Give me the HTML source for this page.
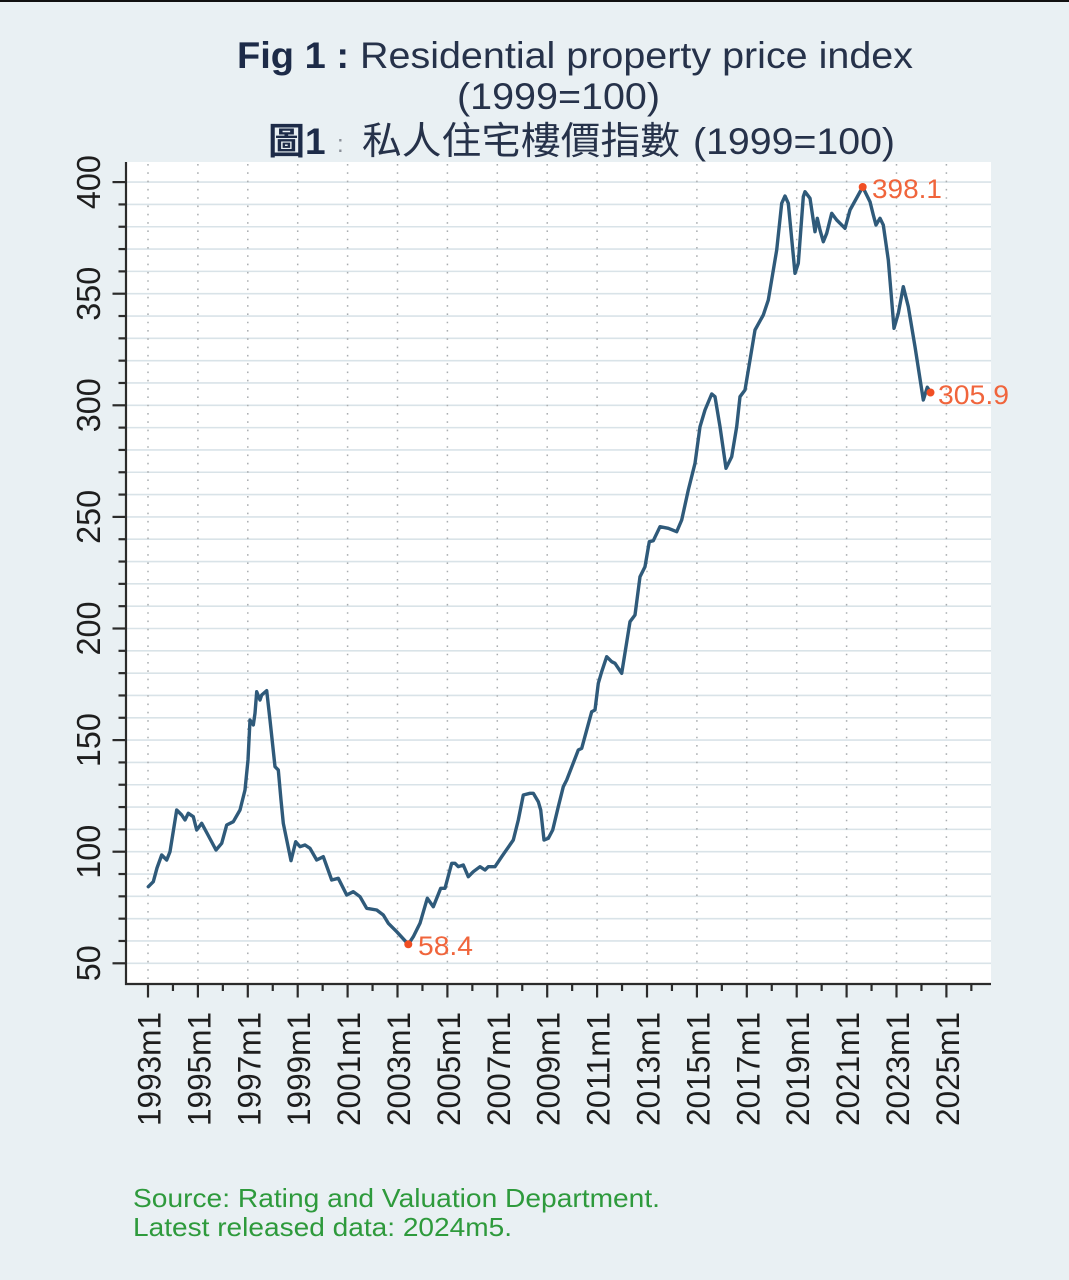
<!DOCTYPE html>
<html><head><meta charset="utf-8"><style>
html,body{margin:0;padding:0;background:#e9f0f3;}
svg{display:block;}
</style></head><body>
<svg width="1069" height="1280" viewBox="0 0 1069 1280" xmlns="http://www.w3.org/2000/svg">
<rect x="0" y="0" width="1069" height="1280" fill="#e9f0f3"/>
<rect x="0" y="0" width="1069" height="2" fill="#111"/>
<!-- title -->
<g font-family="Liberation Sans, Arial, sans-serif" fill="#26324a">
<text x="237" y="68" font-size="37" font-weight="bold" fill="#1d2b48" textLength="112" lengthAdjust="spacingAndGlyphs">Fig 1 :</text>
<text x="360" y="68" font-size="37" textLength="553" lengthAdjust="spacingAndGlyphs">Residential property price index</text>
<text x="457" y="109" font-size="37" textLength="203" lengthAdjust="spacingAndGlyphs">(1999=100)</text>
<text x="268" y="154" font-size="37" font-weight="bold" fill="#1d2b48" font-family="Liberation Sans, 'Noto Sans CJK TC', sans-serif">圖1</text>
<text x="337" y="152" font-size="24" fill="#8a8f98" font-family="Liberation Sans, 'Noto Sans CJK TC', sans-serif">:</text>
<text x="362" y="154" font-size="38" textLength="318" lengthAdjust="spacingAndGlyphs" font-family="Liberation Sans, 'Noto Sans CJK TC', sans-serif">私人住宅樓價指數</text>
<text x="693" y="154" font-size="37" textLength="202" lengthAdjust="spacingAndGlyphs">(1999=100)</text>
</g>
<!-- plot area -->
<rect x="126" y="162" width="865" height="822" fill="#ffffff"/>
<g id="hgrid" stroke="#d9e3e8" stroke-width="1.6"></g>
<g id="vgrid" stroke="#a9adb0" stroke-width="1.5" stroke-dasharray="1.6 6.7"></g>
<!-- axes -->
<g stroke="#2b2b2b" stroke-width="2.2" id="axes">
<line x1="126" y1="162" x2="126" y2="985"/>
<line x1="125" y1="984" x2="991" y2="984"/>
</g>
<g id="labels" font-family="Liberation Sans, Arial, sans-serif" fill="#1e1e1e"></g>
<!-- series -->
<polyline fill="none" stroke="#2f5a7a" stroke-width="3.4" stroke-linejoin="round" stroke-linecap="round" points="
148.3,886.7 153.3,881.7 157,868 161.7,855 166.7,860 170,851.7 176.7,810 181.7,815 185,820 188.3,813.3 193.3,816.7 196.7,830 201.7,823.3 208,835 216,850 221.7,843.3 226.7,825 233.3,821.7 240,810 245,790 248,760 250,720 253.3,725 255,713.3 256.7,691.7 260,700 261.7,695 266.7,690.7 270,720 275,766.7 278.3,770 281,800 283.3,823.3 291,860.7 295.7,841.7 300,846.7 305,845 310,848.3 316.7,860 323.3,856.7 331.7,880 338.3,878.3 346.7,895 353.3,891.7 360,896.7 366.7,908.3 376.7,910 383.3,915 388.3,923.3 396.7,931.7 408.3,944.3 413.3,936.7 420,923.3 427.3,898.3 433.3,906.7 440.7,888.3 445,888.3 451.7,863.3 455,863.3 458.3,866.7 463.3,865 468.3,876.7 473.3,871.7 480,866.7 485,870 488.3,866.7 495,866.7 501.7,856.7 513.3,840 518.3,820 523.3,795 530,793.3 533.3,793.3 538.3,801.7 540.7,810 544,840 548.3,838.3 552.7,830 558.3,806.7 563.3,786.7 566.7,780 578.3,750 581.7,748.3 586.7,730 591.7,711.7 595,710 598.3,683.3 601.7,671.7 606.7,656.7 611.7,661.7 615,663.3 621.7,673.3 630,621.7 635,615 640,576.7 645,566.7 649.3,541.7 653.3,540.7 660,526.7 668.3,528.3 676.7,531.7 681.7,520 688.3,490 695,463.3 700,426.7 705,410 711.7,394 715,396.7 720,426.7 726,468.3 731.7,456.7 736.7,426.7 740,396.7 745,390 750,360 755,330 763.3,315 768.3,300 776.7,250 781.7,203.3 785,196 788.3,203.3 795,273.3 798.3,263.3 803.3,196.7 805,191.7 810,198.3 815,231.7 817.3,218.3 820,230 823.3,241.7 826.7,233.3 831.7,213.3 836.7,220 845,228.3 850,210 862.7,187 870,201.7 873.3,215 876,225 880,218.3 883.3,225 888.3,260 894,328.3 898.3,313.3 903.3,286.7 908.3,306.7 915,346.7 923.3,400 927.3,387.3 930.5,392"/>
<g fill="#f04e23">
<circle cx="862.7" cy="187" r="4"/>
<circle cx="930.5" cy="392.5" r="4"/>
<circle cx="408.3" cy="944.3" r="4"/>
</g>
<g font-family="Liberation Sans, Arial, sans-serif" font-size="27" fill="#f0653c">
<text x="872" y="198" textLength="70" lengthAdjust="spacingAndGlyphs">398.1</text>
<text x="938" y="404" textLength="71" lengthAdjust="spacingAndGlyphs">305.9</text>
<text x="418" y="955" textLength="55" lengthAdjust="spacingAndGlyphs">58.4</text>
</g>
<!-- source -->
<g font-family="Liberation Sans, Arial, sans-serif" font-size="26" fill="#2e9a3c">
<text x="133" y="1207" textLength="527" lengthAdjust="spacingAndGlyphs">Source: Rating and Valuation Department.</text>
<text x="133" y="1236" textLength="379" lengthAdjust="spacingAndGlyphs">Latest released data: 2024m5.</text>
</g>
</svg>
<script>
(function(){
var NS="http://www.w3.org/2000/svg";
function el(t,a,p){var e=document.createElementNS(NS,t);for(var k in a)e.setAttribute(k,a[k]);p.appendChild(e);return e;}
function yv(v){return 963.3-(v-50)*2.232;}
function xt(yr){return 148+(yr-1993)*24.95;}
var hg=document.getElementById('hgrid'),vg=document.getElementById('vgrid'),ax=document.getElementById('axes'),lb=document.getElementById('labels');
for(var v=50;v<=400;v+=10){var y=yv(v);el('line',{x1:127,y1:y,x2:991,y2:y},hg);
 var major=(v%50===0);el('line',{x1:major?112.5:118.5,y1:y,x2:126,y2:y},ax);
 if(major){var t=el('text',{transform:'translate(100,'+y+') rotate(-90)','text-anchor':'middle','font-size':'33',textLength:(v>=100?54:36),lengthAdjust:'spacingAndGlyphs'},lb);t.textContent=String(v);}
}
for(var k=0;k<=16;k++){var yr=1993+2*k;var x=xt(yr);
 el('line',{x1:x,y1:164,x2:x,y2:983},vg);
 el('line',{x1:x,y1:984,x2:x,y2:997.5},ax);
 var xm=xt(yr+1);el('line',{x1:xm,y1:984,x2:xm,y2:991},ax);
 var t=el('text',{transform:'translate('+(x+12.5)+',1012) rotate(-90)','text-anchor':'end','font-size':'32',textLength:'114',lengthAdjust:'spacingAndGlyphs'},lb);t.textContent=yr+'m1';
}
})();
</script>
</body></html>
